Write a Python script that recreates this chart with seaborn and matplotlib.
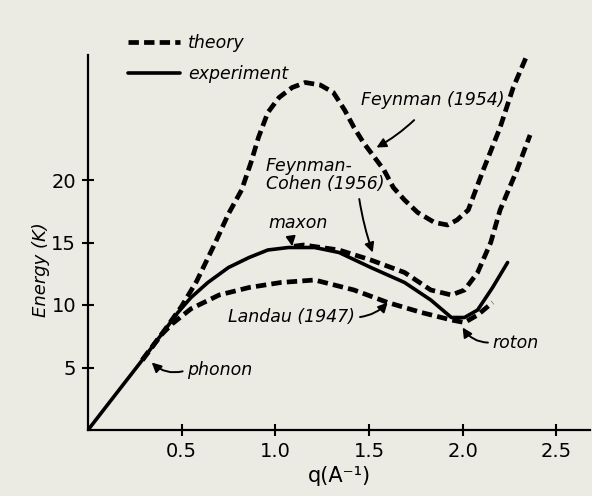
import numpy as np
import matplotlib.pyplot as plt
import seaborn as sns
from matplotlib.lines import Line2D

# dispersion curves of liquid helium
q_exp = [0.0, 0.15, 0.29, 0.39, 0.48, 0.55, 0.64, 0.75, 0.86, 0.96, 1.07, 1.21,
         1.34, 1.51, 1.69, 1.83, 1.94, 2.01, 2.08, 2.16, 2.24]
E_exp = [0.0, 2.9, 5.6, 7.6, 9.4, 10.6, 11.8, 13.0, 13.8, 14.4, 14.6, 14.6,
         14.2, 13.0, 11.8, 10.4, 9.0, 9.0, 9.6, 11.4, 13.4]

q_landau = [0.29, 0.39, 0.45, 0.55, 0.70, 0.86, 1.03, 1.21, 1.42, 1.60, 1.78,
            1.94, 2.01, 2.08, 2.16]
E_landau = [5.6, 7.6, 8.5, 9.7, 10.8, 11.4, 11.8, 12.0, 11.2, 10.2, 9.4,
            8.8, 8.6, 9.2, 10.2]

q_feyn = [0.29, 0.39, 0.50, 0.58, 0.68, 0.75, 0.82, 0.87, 0.91, 0.96, 1.02,
          1.09, 1.16, 1.24, 1.31, 1.37, 1.42, 1.47, 1.53, 1.58, 1.63, 1.69,
          1.76, 1.85, 1.92, 1.97, 2.03, 2.11, 2.20, 2.27, 2.35]
E_feyn = [5.6, 7.6, 9.9, 11.9, 15.0, 17.3, 19.2, 21.4, 23.4, 25.4, 26.6,
          27.4, 27.8, 27.6, 27.0, 25.6, 24.2, 23.0, 21.8, 20.8, 19.4, 18.4,
          17.4, 16.6, 16.4, 16.8, 17.6, 20.8, 24.2, 27.4, 30.2]

q_fc = [1.10, 1.15, 1.34, 1.51, 1.69, 1.83, 1.94, 2.01, 2.08, 2.15, 2.20,
        2.29, 2.36]
E_fc = [14.7, 14.8, 14.4, 13.6, 12.6, 11.2, 10.8, 11.2, 12.6, 15.0, 17.6,
        20.8, 23.6]

x_ticks = [0.5, 1.0, 1.5, 2.0, 2.5]
x_ticklabels = ["0.5", "1.0", "1.5", "2.0", "2.5"]
y_ticks = [5, 10, 15, 20]

bg = "#ecebe3"
sns.set_style("ticks")
plt.rcParams.update({
    "font.family": ["DejaVu Sans"],
    "text.color": "black",
    "axes.labelcolor": "black",
    "axes.edgecolor": "black",
    "xtick.color": "black",
    "ytick.color": "black",
})

fig = plt.figure(figsize=(5.92, 4.96), dpi=100, facecolor=bg)
ax = fig.add_axes([88 / 592, 66 / 496, 502 / 592, 375 / 496])
ax.set_facecolor(bg)

dash = (0, (2.2, 1.1))
kw = dict(color="black", estimator=None, sort=False, ax=ax)
sns.lineplot(x=q_landau, y=E_landau, lw=3.4, linestyle=dash, dash_capstyle="butt", **kw)
sns.lineplot(x=q_feyn, y=E_feyn, lw=3.4, linestyle=dash, dash_capstyle="butt", **kw)
sns.lineplot(x=q_fc, y=E_fc, lw=3.4, linestyle=dash, dash_capstyle="butt", **kw)
sns.lineplot(x=q_exp, y=E_exp, lw=2.6, solid_joinstyle="round", **kw)

ax.set_xlim(0, 2.68)
ax.set_ylim(0, 30)
sns.despine(ax=ax)
for s in ("left", "bottom"):
    ax.spines[s].set_linewidth(1.6)
ax.set_xticks(x_ticks)
ax.set_xticklabels(x_ticklabels)
ax.set_yticks(y_ticks)
ax.tick_params(direction="inout", length=9, width=1.5, labelsize=14, pad=4)

ax.set_xlabel("q(A\u207b\u00b9)", fontsize=15, labelpad=4)
ax.set_ylabel("Energy (K)", fontsize=13, style="italic")
ax.yaxis.set_label_coords(-0.075, 12.8 / 30)

# annotations
afs = 12.5
arrow = dict(arrowstyle="-|>", color="black", lw=1.4, mutation_scale=14)
ax.annotate("Feynman (1954)", xy=(1.54, 22.6), xytext=(1.84, 26.4), ha="center",
            va="center", fontsize=afs, style="italic",
            arrowprops=dict(arrow, connectionstyle="arc3,rad=-0.1", shrinkA=8, shrinkB=0))
ax.annotate("Feynman-\nCohen (1956)", xy=(1.52, 14.2), xytext=(0.95, 20.4), ha="left",
            va="center", fontsize=afs, style="italic", linespacing=1.0,
            arrowprops=dict(arrow, connectionstyle="arc3,rad=0.05", relpos=(0.78, 0.0),
                            shrinkA=2, shrinkB=0))
ax.annotate("maxon", xy=(1.09, 14.7), xytext=(1.12, 16.6), ha="center",
            va="center", fontsize=afs, style="italic",
            arrowprops=dict(arrow, connectionstyle="arc3,rad=0.2", shrinkA=5, shrinkB=0))
ax.annotate("Landau (1947)", xy=(1.60, 10.2), xytext=(0.75, 9.0), ha="left",
            va="center", fontsize=afs, style="italic",
            arrowprops=dict(arrow, connectionstyle="arc3,rad=0.2", relpos=(1.0, 0.5),
                            shrinkA=1, shrinkB=0))
ax.annotate("phonon", xy=(0.34, 5.4), xytext=(0.53, 4.8), ha="left",
            va="center", fontsize=afs, style="italic",
            arrowprops=dict(arrow, connectionstyle="arc3,rad=-0.3", relpos=(0.0, 0.5),
                            shrinkA=1, shrinkB=0))
ax.annotate("roton", xy=(2.0, 8.2), xytext=(2.16, 7.0), ha="left",
            va="center", fontsize=afs, style="italic",
            arrowprops=dict(arrow, connectionstyle="arc3,rad=-0.3", relpos=(0.0, 0.5),
                            shrinkA=1, shrinkB=0))

handles = [Line2D([], [], color="black", lw=3.4, linestyle=dash, dash_capstyle="butt"),
           Line2D([], [], color="black", lw=2.6)]
fig.legend(handles, ["theory", "experiment"], loc="upper left",
           bbox_to_anchor=(112 / 592, 1 - 18 / 496), frameon=False,
           prop=dict(size=12.5, style="italic"), handlelength=3.0,
           handletextpad=0.5, labelspacing=0.75)

fig.savefig("out.png", dpi=100, facecolor=bg)
